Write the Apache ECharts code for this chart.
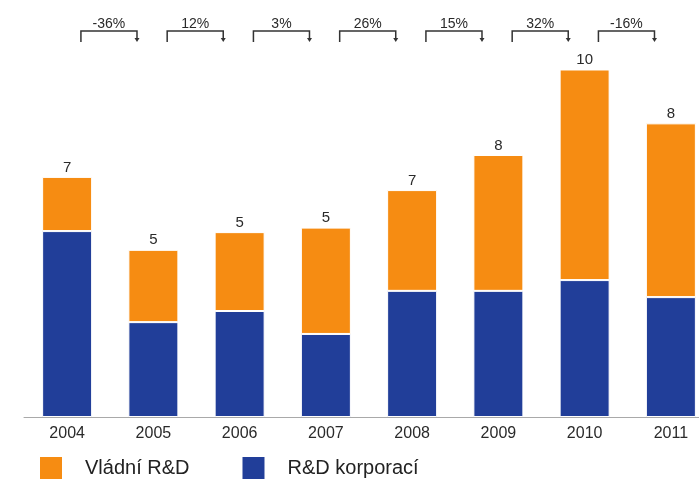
<!DOCTYPE html>
<html>
<head>
<meta charset="utf-8">
<style>
  html, body { margin: 0; padding: 0; background: #ffffff; overflow: hidden; }
  #chart { width: 714px; height: 483px; }
</style>
<script src="https://cdn.jsdelivr.net/npm/echarts@6/dist/echarts.min.js"></script>
</head>
<body>
<div id="chart"></div>
<script>
// Years on the category axis
const years = ['2004', '2005', '2006', '2007', '2008', '2009', '2010', '2011'];
// Corporate R&D spending (bottom segment)
const corporateRD = [5.35, 2.73, 3.05, 2.39, 3.63, 3.63, 3.94, 3.45];
// Government R&D spending (top segment)
const governmentRD = [1.56, 2.08, 2.27, 3.06, 2.90, 3.91, 6.06, 5.00];
// Year-on-year change shown between neighbouring bars
const changeLabels = ['-36%', '12%', '3%', '26%', '15%', '32%', '-16%'];

const seriesNames = ['Vládní R&D', 'R&D korporací'];
const ORANGE = '#F68C12';
const BLUE = '#213E99';

const chart = echarts.init(document.getElementById('chart'), null, { renderer: 'canvas' });

const option = {
  backgroundColor: '#ffffff',
  animation: false,
  textStyle: { fontFamily: 'Liberation Sans, Arial, sans-serif' },
  // The plot runs a little past the right edge of the window, so the last bar is cut
  grid: { left: 24, right: 0, top: 0, bottom: 66 },
  legend: {
    data: seriesNames,
    left: 38,
    top: 455,
    padding: 0,
    itemWidth: 24,
    itemHeight: 24,
    itemGap: 51,
    icon: 'rect',
    textStyle: { fontSize: 20, color: '#222', padding: [0, 0, 0, 17] }
  },
  xAxis: {
    type: 'category',
    data: years,
    axisTick: { show: false },
    axisLine: { show: true, lineStyle: { color: '#a9a9a9', width: 1 } },
    axisLabel: { fontSize: 16, color: '#2a2a2a', margin: 9 }
  },
  yAxis: {
    type: 'value',
    min: 0,
    max: 12,
    show: false,
    splitLine: { show: false }
  },
  series: [
    {
      name: seriesNames[1],
      type: 'bar',
      stack: 'rd',
      barWidth: 50,
      data: corporateRD,
      itemStyle: { color: BLUE, borderColor: '#ffffff', borderWidth: 1 }
    },
    {
      name: seriesNames[0],
      type: 'bar',
      stack: 'rd',
      barWidth: 50,
      data: governmentRD,
      itemStyle: { color: ORANGE, borderColor: '#ffffff', borderWidth: 1 },
      label: {
        show: true,
        position: 'top',
        distance: 2,
        fontSize: 15,
        color: '#2a2a2a',
        formatter: (p) => String(Math.round(corporateRD[p.dataIndex] + governmentRD[p.dataIndex]))
      }
    },
    {
      // Brackets with the percentage change between consecutive years
      type: 'custom',
      silent: true,
      data: changeLabels.map((t, i) => [i, t]),
      encode: { x: 0 },
      renderItem: function (params, api) {
        const i = api.value(0);
        const band = api.size([1, 0])[0];
        const x0 = api.coord([i, 0])[0];
        const x1 = api.coord([i + 1, 0])[0];
        const left = x0 + band * 0.16;
        const right = x1 - band * 0.19;
        const mid = (left + right) / 2;
        const top = params.coordSys.y + 31;
        const bottom = top + 11;
        const stroke = '#333';
        return {
          type: 'group',
          children: [
            {
              type: 'polyline',
              shape: { points: [[left, bottom], [left, top], [right, top], [right, bottom - 3]] },
              style: { stroke: stroke, lineWidth: 1.5, fill: null }
            },
            {
              type: 'polygon',
              shape: { points: [[right - 2.5, bottom - 4], [right + 2.5, bottom - 4], [right, bottom]] },
              style: { fill: stroke }
            },
            {
              type: 'text',
              style: {
                x: mid,
                y: top,
                text: changeLabels[i],
                align: 'center',
                verticalAlign: 'bottom',
                fontSize: 14,
                fill: '#2a2a2a',
                fontFamily: 'Liberation Sans, Arial, sans-serif'
              }
            }
          ]
        };
      }
    }
  ]
};

chart.setOption(option);
</script>
</body>
</html>
